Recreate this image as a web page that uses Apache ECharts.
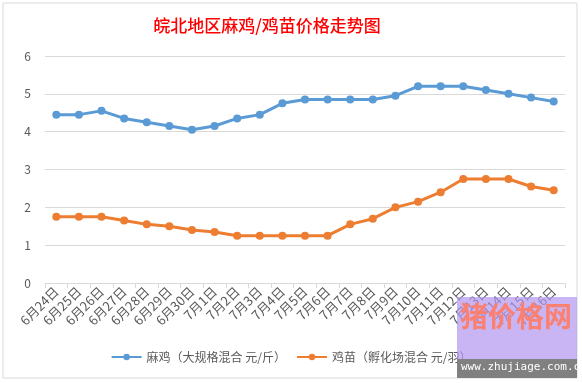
<!DOCTYPE html>
<html><head><meta charset="utf-8">
<script src="https://cdn.jsdelivr.net/npm/echarts@6/dist/echarts.min.js"></script>
<style>html,body{margin:0;padding:0;background:#fff}#c{width:582px;height:383px}</style>
</head><body><div id="c"></div>
<script>
const categories = ['6月24日','6月25日','6月26日','6月27日','6月28日','6月29日','6月30日','7月1日','7月2日','7月3日','7月4日','7月5日','7月6日','7月7日','7月8日','7月9日','7月10日','7月11日','7月12日','7月13日','7月14日','7月15日','7月16日'];
const maji = [4.45,4.45,4.55,4.35,4.25,4.15,4.05,4.15,4.35,4.45,4.75,4.85,4.85,4.85,4.85,4.95,5.2,5.2,5.2,5.1,5.0,4.9,4.8];
const jimiao = [1.75,1.75,1.75,1.65,1.55,1.5,1.4,1.35,1.25,1.25,1.25,1.25,1.25,1.55,1.7,2.0,2.15,2.4,2.75,2.75,2.75,2.55,2.45];
const seriesNames = ['麻鸡（大规格混合 元/斤）','鸡苗（孵化场混合 元/羽）'];
const titleText = '皖北地区麻鸡/鸡苗价格走势图';
const yTicks = {min:0,max:6,interval:1};

const font = '"Microsoft YaHei","Noto Sans CJK SC",sans-serif';
const chart = echarts.init(document.getElementById('c'));
chart.setOption({
  animation:false,
  backgroundColor:'#fff',
  textStyle:{fontFamily:font},
  title:{text:titleText,left:262,textAlign:'center',top:12,
    textStyle:{color:'#FF0000',fontSize:17,fontWeight:500,fontFamily:font}},
  grid:{left:45,right:17,top:56,bottom:100,containLabel:false},
  legend:{bottom:15,left:'center',itemWidth:30,itemHeight:8,itemGap:10,
    textStyle:{color:'#595959',fontSize:12,fontFamily:font},
    data:seriesNames},
  xAxis:{type:'category',data:categories,boundaryGap:true,
    axisLine:{lineStyle:{color:'#d9d9d9'}},
    axisTick:{show:true,lineStyle:{color:'#d9d9d9'},length:5},
    axisLabel:{rotate:45,interval:0,color:'#595959',fontSize:13,margin:6,fontFamily:font}},
  yAxis:{type:'value',min:yTicks.min,max:yTicks.max,interval:yTicks.interval,
    axisLine:{show:false},axisTick:{show:false},
    axisLabel:{color:'#595959',fontSize:12,margin:14,fontFamily:font},
    splitLine:{lineStyle:{color:'#d9d9d9'}}},
  series:[
    {name:seriesNames[0],type:'line',data:maji,symbol:'circle',symbolSize:8,
     lineStyle:{width:3,color:'#5B9BD5'},itemStyle:{color:'#5B9BD5'}},
    {name:seriesNames[1],type:'line',data:jimiao,symbol:'circle',symbolSize:8,
     lineStyle:{width:3,color:'#ED7D31'},itemStyle:{color:'#ED7D31'}}
  ],
  graphic:[
    {type:'rect',shape:{x:3,y:3,width:574,height:375},style:{fill:'none',stroke:'#d9d9d9',lineWidth:1},z:-1},
    {type:'rect',shape:{x:457,y:297,width:120,height:62},style:{fill:'rgba(180,150,240,0.7)'},z:100},
    {type:'text',left:460,top:302,style:{text:'猪价格网',fill:'#FA8072',fontSize:28,fontWeight:'bold',fontFamily:font},z:101},
    {type:'rect',shape:{x:457,y:359,width:120,height:19},style:{fill:'#808080'},z:100},
    {type:'text',left:461,top:362,style:{text:'www.zhujiage.com.cn',fill:'#fff',fontSize:11,fontFamily:'"DejaVu Sans Mono",monospace'},z:101}
  ]
});
</script></body></html>
